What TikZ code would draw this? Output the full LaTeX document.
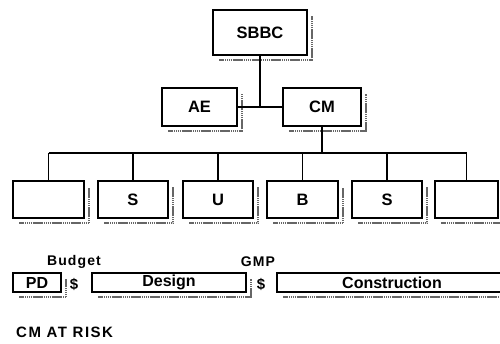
\documentclass[tikz,border=0pt]{standalone}
\usepackage{fontspec}
\setmainfont{Liberation Sans}
\newfontfamily\wide[LetterSpace=8]{Liberation Sans}
\newfontfamily\roomy[LetterSpace=10]{Liberation Sans}
\usetikzlibrary{calc}

% drop shadow along the right and bottom edge of a box
\newcommand\dropshade[1]{%
  \draw[shade] ($(#1.south west)+(7,4.5)$) -| ($(#1.north east)+(4.5,7)$);}

\begin{document}
\begin{tikzpicture}[x=1pt,y=-1pt,
  box/.style={draw, line width=1.6pt, fill=white, inner sep=0pt,
    font=\bfseries\fontsize{16.5}{18}\selectfont},
  lowbox/.style={box, font=\bfseries\fontsize{16}{18}\selectfont},
  shade/.style={draw=black!60, line width=2pt, dash pattern=on 1.4pt off 0.5pt},
  link/.style={line width=1.3pt},
  tag/.style={inner sep=0pt, font=\wide\bfseries\fontsize{14}{16}\selectfont}]
\useasboundingbox (0,0) rectangle (500,343);
\clip (0,0) rectangle (500,343);

% top of the hierarchy
\node[box, minimum width=94pt, minimum height=45pt] (sbbc) at (260,32.5) {SBBC};
\node[box, minimum width=75pt, minimum height=38pt] (ae) at (199.5,107) {AE};
\node[box, minimum width=78pt, minimum height=38pt] (cm) at (322,107) {CM};

% trade boxes
\node[box, minimum width=71pt, minimum height=37pt] (t1) at (48.5,199.5) {};
\node[box, minimum width=70pt, minimum height=37pt] (t2) at (133,199.5) {S};
\node[box, minimum width=70pt, minimum height=37pt] (t3) at (218,199.5) {U};
\node[box, minimum width=71pt, minimum height=37pt] (t4) at (302.5,199.5) {B};
\node[box, minimum width=70pt, minimum height=37pt] (t5) at (387,199.5) {S};
\node[box, minimum width=63pt, minimum height=37pt] (t6) at (466.5,199.5) {};

% project phases
\node[lowbox, minimum width=48pt, minimum height=19pt] (pd) at (37,282.5) {PD};
\node[lowbox, minimum width=154pt, minimum height=19pt] (design) at (169,282.5) {Design};
\node[lowbox, minimum width=230pt, minimum height=19pt] (constr) at (392,282.5) {Construction};

\foreach \n in {sbbc,ae,cm,t1,t2,t3,t4,t5,t6,pd,design,constr} {\dropshade{\n}}

% connectors
\coordinate (tee) at (sbbc.south |- ae.east);
\draw[link] (sbbc.south) -- (tee);
\draw[link] (ae.east) -- (cm.west);
\coordinate (busL) at (t1.north |- 0,153);
\coordinate (busR) at (t6.north |- 0,153);
\coordinate (busM) at (cm.south |- busL);
\draw[link] (cm.south) -- (busM);
\draw[link] (busL) -- (busR);
\foreach \n in {t1,t2,t3,t4,t5,t6} {\draw[link] (\n.north) -- (\n.north |- busL);}

% labels
\node[tag] (budget) at (74,262) {Budget};
\node[tag] (gmp) at (258,262) {GMP};
\node[tag, font=\bfseries\fontsize{15}{17}\selectfont] (cash1) at (74,284) {\$};
\node[tag, font=\bfseries\fontsize{15}{17}\selectfont] (cash2) at (261,284) {\$};
\node[tag, anchor=west, font=\roomy\bfseries\fontsize{15}{17}\selectfont] (risk) at (16,332.5) {CM AT RISK};
\end{tikzpicture}
\end{document}
